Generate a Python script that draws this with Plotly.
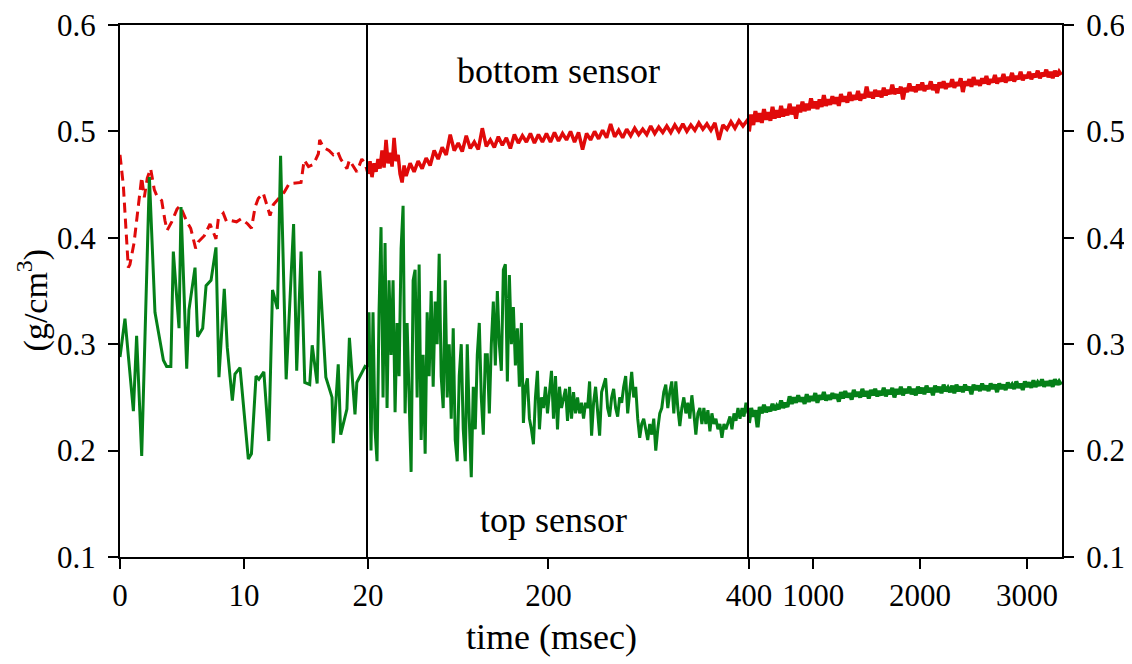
import plotly.graph_objects as go

# ---------------- data ----------------
# segment 1 (0-20 msec)
top1_t = [0, 0.4, 1.08, 1.34, 1.75, 2.37, 2.82, 3.5, 3.76, 4.1, 4.3, 4.76, 4.92, 5.38, 5.56, 6.05, 6.26, 6.67,
          6.94, 7.34, 7.74, 7.98, 8.41, 8.65, 9.06, 9.27, 9.68, 10.35, 10.6, 10.97, 11.2, 11.6, 12.0, 12.3, 12.7,
          12.95, 13.4, 14.0, 14.25, 14.6, 14.9, 15.3, 15.5, 15.9, 16.1, 16.6, 17.1, 17.2, 17.6, 17.8, 18.3, 18.5,
          18.95, 19.1, 19.76, 20]
top1_v = [0.288, 0.324, 0.237, 0.308, 0.195, 0.457, 0.330, 0.285, 0.279, 0.279, 0.387, 0.315, 0.429, 0.277, 0.332,
          0.372, 0.307, 0.315, 0.355, 0.360, 0.391, 0.269, 0.352, 0.297, 0.247, 0.272, 0.278, 0.192, 0.197, 0.270,
          0.267, 0.274, 0.209, 0.351, 0.333, 0.477, 0.267, 0.413, 0.275, 0.387, 0.264, 0.262, 0.299, 0.263, 0.369,
          0.269, 0.250, 0.207, 0.281, 0.215, 0.239, 0.306, 0.234, 0.264, 0.279, 0.277]
bot1_t = [0, 0.27, 0.67, 0.8, 1.13, 1.48, 1.75, 1.96, 2.2, 2.47, 2.77, 2.95, 3.36, 3.63, 3.8, 4.17, 4.6, 4.84, 5.4,
          5.7, 6.1, 6.3, 6.8, 7.26, 7.74, 7.93, 8.33, 8.6, 9.0, 9.4, 9.8, 10.3, 10.6, 10.9, 11.15, 11.55, 12.1, 12.36,
          12.6, 13.25, 13.65, 14.6, 14.85, 15.2, 15.6, 16.0, 16.1, 16.4, 16.85, 17.2, 17.55, 17.8, 18.3, 18.5, 19.1,
          19.5, 19.76, 20]
bot1_v = [0.478, 0.449, 0.372, 0.375, 0.395, 0.428, 0.457, 0.438, 0.456, 0.465, 0.445, 0.440, 0.435, 0.416, 0.407,
          0.415, 0.427, 0.430, 0.415, 0.409, 0.390, 0.396, 0.402, 0.413, 0.399, 0.418, 0.423, 0.415, 0.416, 0.415,
          0.418, 0.413, 0.409, 0.429, 0.437, 0.442, 0.421, 0.431, 0.434, 0.443, 0.451, 0.452, 0.473, 0.467, 0.469,
          0.479, 0.492, 0.485, 0.482, 0.478, 0.481, 0.474, 0.465, 0.473, 0.462, 0.474, 0.470, 0.460]

# segment 2 (20-400 msec)
top2_t = [20, 21, 23, 25, 27, 29, 31, 33, 35, 37, 39, 41, 43, 45, 47, 49, 51, 53, 55, 57, 59, 61, 63, 65, 67, 69,
          71, 73, 75, 77, 79, 81, 83, 85, 87, 89, 91, 93, 95, 97, 99, 101, 103, 105, 107, 109, 111, 113, 115, 117,
          119, 121, 123, 125, 127, 129, 131, 133, 135, 137, 139, 141, 143, 145, 147, 149, 151, 153, 155, 157, 159,
          161, 163, 165, 167, 169, 171, 173, 175, 177, 179, 181, 183, 185, 187, 189, 191, 193, 195, 197, 199, 201,
          203, 205, 207, 209, 211, 213, 215, 217, 219, 221, 223, 225, 227, 229, 231, 233, 235, 237, 239, 241, 243,
          245, 247, 249, 251, 253, 255, 257, 259, 261, 263, 265, 267, 269, 271, 273, 275, 277, 279, 281, 283, 285,
          287, 289, 291, 293, 295, 297, 299, 301, 303, 305, 307, 309, 311, 313, 315, 317, 319, 321, 323, 325, 327,
          329, 331, 333, 335, 337, 339, 341, 343, 345, 347, 349, 351, 353, 355, 357, 359, 361, 363, 365, 367, 369,
          371, 373, 375, 377, 379, 381, 383, 385, 387, 389, 391, 393, 395, 397, 399, 400]
top2_v = [0.278, 0.33, 0.20, 0.33, 0.22, 0.19, 0.33, 0.41, 0.25, 0.395, 0.24, 0.36, 0.29, 0.36, 0.236, 0.32, 0.27,
          0.39, 0.43, 0.235, 0.32, 0.24, 0.18, 0.36, 0.37, 0.25, 0.375, 0.21, 0.29, 0.197, 0.33, 0.27, 0.35, 0.26,
          0.34, 0.30, 0.385, 0.27, 0.24, 0.36, 0.25, 0.30, 0.23, 0.315, 0.21, 0.19, 0.27, 0.30, 0.22, 0.19, 0.30,
          0.23, 0.175, 0.26, 0.22, 0.29, 0.32, 0.25, 0.215, 0.29, 0.29, 0.235, 0.30, 0.34, 0.28, 0.35, 0.30, 0.275,
          0.37, 0.375, 0.265, 0.365, 0.30, 0.335, 0.28, 0.315, 0.26, 0.32, 0.226, 0.26, 0.268, 0.23, 0.22, 0.206,
          0.25, 0.275, 0.22, 0.25, 0.24, 0.26, 0.235, 0.255, 0.275, 0.23, 0.27, 0.22, 0.26, 0.24, 0.25, 0.258,
          0.228, 0.26, 0.23, 0.255, 0.235, 0.25, 0.235, 0.245, 0.23, 0.245, 0.24, 0.265, 0.214, 0.245, 0.26, 0.235,
          0.214, 0.255, 0.262, 0.268, 0.24, 0.232, 0.25, 0.258, 0.24, 0.232, 0.25, 0.245, 0.26, 0.27, 0.235, 0.255,
          0.274, 0.25, 0.26, 0.23, 0.212, 0.225, 0.23, 0.22, 0.21, 0.225, 0.215, 0.23, 0.20, 0.22, 0.235, 0.24,
          0.255, 0.262, 0.24, 0.255, 0.265, 0.235, 0.265, 0.24, 0.223, 0.24, 0.25, 0.235, 0.245, 0.23, 0.252, 0.235,
          0.215, 0.235, 0.24, 0.225, 0.24, 0.225, 0.238, 0.218, 0.235, 0.225, 0.23, 0.22, 0.225, 0.212, 0.225, 0.22,
          0.225, 0.232, 0.22, 0.235, 0.228, 0.24, 0.23, 0.24, 0.232, 0.245, 0.235, 0.244]
bot2_t = [20, 22, 24, 26, 28, 30, 32, 34, 36, 38, 40, 42, 44, 46, 48, 50, 52, 54, 56, 58, 62, 66, 70, 74, 78, 82,
          86, 90, 94, 98, 102, 106, 110, 114, 118, 122, 126, 130, 134, 138, 142, 146, 150, 154, 158, 162, 166, 170,
          174, 178, 182, 186, 190, 194, 198, 202, 206, 210, 214, 218, 222, 226, 230, 234, 238, 242, 246, 250, 254,
          258, 262, 266, 270, 274, 278, 282, 286, 290, 294, 298, 302, 306, 310, 314, 318, 322, 326, 330, 334, 338,
          342, 346, 350, 354, 358, 362, 366, 370, 374, 378, 382, 386, 390, 394, 398, 400]
bot2_v = [0.460, 0.472, 0.457, 0.470, 0.462, 0.474, 0.465, 0.482, 0.466, 0.492, 0.470, 0.480, 0.467, 0.494, 0.472,
          0.478, 0.460, 0.452, 0.468, 0.458, 0.470, 0.462, 0.472, 0.465, 0.475, 0.468, 0.482, 0.474, 0.485, 0.478,
          0.497, 0.482, 0.489, 0.481, 0.496, 0.484, 0.490, 0.483, 0.503, 0.486, 0.492, 0.485, 0.495, 0.487, 0.494,
          0.484, 0.497, 0.489, 0.496, 0.490, 0.498, 0.489, 0.497, 0.490, 0.498, 0.490, 0.499, 0.491, 0.498, 0.492,
          0.500, 0.490, 0.499, 0.483, 0.498, 0.492, 0.500, 0.493, 0.501, 0.494, 0.507, 0.495, 0.501, 0.494, 0.502,
          0.496, 0.503, 0.497, 0.502, 0.497, 0.505, 0.498, 0.504, 0.499, 0.505, 0.499, 0.506, 0.500, 0.507, 0.500,
          0.506, 0.501, 0.508, 0.502, 0.507, 0.501, 0.508, 0.492, 0.506, 0.502, 0.509, 0.503, 0.510, 0.505, 0.510,
          0.508]

# segment 3 (400-3320 msec)
seg3_t = [400, 420, 440, 460, 480, 500, 520, 540, 560, 580, 600, 620, 640, 660, 680, 700, 720, 740, 760, 780,
          800, 820, 840, 860, 880, 900, 920, 940, 960, 980, 1000, 1020, 1040, 1060, 1080, 1100, 1120, 1140, 1160,
          1180, 1200, 1220, 1240, 1260, 1280, 1300, 1320, 1340, 1360, 1380, 1400, 1420, 1440, 1460, 1480, 1500,
          1520, 1540, 1560, 1580, 1600, 1620, 1640, 1660, 1680, 1700, 1720, 1740, 1760, 1780, 1800, 1820, 1840,
          1860, 1880, 1900, 1920, 1940, 1960, 1980, 2000, 2020, 2040, 2060, 2080, 2100, 2120, 2140, 2160, 2180,
          2200, 2220, 2240, 2260, 2280, 2300, 2320, 2340, 2360, 2380, 2400, 2420, 2440, 2460, 2480, 2500, 2520,
          2540, 2560, 2580, 2600, 2620, 2640, 2660, 2680, 2700, 2720, 2740, 2760, 2780, 2800, 2820, 2840, 2860,
          2880, 2900, 2920, 2940, 2960, 2980, 3000, 3020, 3040, 3060, 3080, 3100, 3120, 3140, 3160, 3180, 3200,
          3220, 3240, 3260, 3280, 3300, 3320]
bot3_v = [0.500, 0.516, 0.506, 0.519, 0.509, 0.517, 0.508, 0.521, 0.511, 0.518,
          0.510, 0.523, 0.512, 0.520, 0.513, 0.524, 0.514, 0.521, 0.515, 0.526,
          0.516, 0.523, 0.512, 0.525, 0.518, 0.528, 0.519, 0.526, 0.520, 0.531,
          0.522, 0.528, 0.521, 0.530, 0.523, 0.534, 0.524, 0.530, 0.525, 0.533,
          0.526, 0.532, 0.524, 0.535, 0.528, 0.533, 0.527, 0.537, 0.529, 0.534,
          0.530, 0.538, 0.529, 0.535, 0.531, 0.542, 0.532, 0.537, 0.531, 0.539,
          0.533, 0.538, 0.532, 0.541, 0.534, 0.539, 0.535, 0.544, 0.535, 0.540,
          0.536, 0.542, 0.530, 0.541, 0.537, 0.545, 0.538, 0.542, 0.537, 0.544,
          0.539, 0.546, 0.538, 0.543, 0.540, 0.547, 0.539, 0.544, 0.536, 0.546,
          0.541, 0.547, 0.540, 0.545, 0.542, 0.549, 0.541, 0.546, 0.543, 0.550,
          0.537, 0.547, 0.543, 0.549, 0.542, 0.551, 0.544, 0.548, 0.543, 0.550,
          0.545, 0.552, 0.544, 0.549, 0.546, 0.553, 0.545, 0.550, 0.547, 0.554,
          0.546, 0.551, 0.548, 0.555, 0.547, 0.552, 0.549, 0.556, 0.548, 0.553,
          0.550, 0.556, 0.549, 0.554, 0.551, 0.557, 0.550, 0.555, 0.552, 0.558,
          0.551, 0.556, 0.550, 0.557, 0.552, 0.556, 0.553]
top3_v = [0.226, 0.240, 0.232, 0.238, 0.222, 0.241, 0.235, 0.243, 0.236, 0.241,
          0.237, 0.244, 0.238, 0.242, 0.239, 0.247, 0.240, 0.245, 0.241, 0.251,
          0.244, 0.250, 0.245, 0.252, 0.246, 0.250, 0.244, 0.253, 0.246, 0.251,
          0.247, 0.254, 0.245, 0.252, 0.248, 0.255, 0.247, 0.252, 0.248, 0.254,
          0.249, 0.253, 0.246, 0.255, 0.249, 0.256, 0.250, 0.254, 0.248, 0.257,
          0.251, 0.255, 0.250, 0.258, 0.251, 0.256, 0.249, 0.257, 0.252, 0.258,
          0.251, 0.256, 0.252, 0.259, 0.251, 0.257, 0.253, 0.259, 0.250, 0.258,
          0.253, 0.260, 0.252, 0.258, 0.254, 0.260, 0.253, 0.258, 0.252, 0.260,
          0.254, 0.259, 0.253, 0.261, 0.255, 0.259, 0.252, 0.261, 0.255, 0.260,
          0.254, 0.262, 0.256, 0.259, 0.255, 0.261, 0.254, 0.262, 0.256, 0.260,
          0.255, 0.262, 0.257, 0.260, 0.253, 0.262, 0.257, 0.261, 0.256, 0.263,
          0.257, 0.261, 0.256, 0.263, 0.258, 0.262, 0.255, 0.263, 0.258, 0.262,
          0.257, 0.264, 0.259, 0.262, 0.258, 0.265, 0.259, 0.263, 0.257, 0.265,
          0.260, 0.264, 0.259, 0.266, 0.260, 0.264, 0.261, 0.267, 0.260, 0.265,
          0.261, 0.266, 0.260, 0.267, 0.262, 0.265, 0.262]

x1_ticks = [0, 10, 20]
x2_ticks = [200, 400]
x3_ticks = [1000, 2000, 3000]
y_ticks = [0.1, 0.2, 0.3, 0.4, 0.5, 0.6]

RED = "#e00a0a"
GREEN = "#058018"
FONT = "Liberation Serif"

fig = go.Figure()
fig.add_trace(go.Scatter(x=bot1_t, y=bot1_v, mode="lines", line=dict(color=RED, width=3, dash="10px,6px"),
                         xaxis="x", yaxis="y"))
fig.add_trace(go.Scatter(x=top1_t, y=top1_v, mode="lines", line=dict(color=GREEN, width=3),
                         xaxis="x", yaxis="y"))
fig.add_trace(go.Scatter(x=bot2_t, y=bot2_v, mode="lines", line=dict(color=RED, width=3.5),
                         xaxis="x2", yaxis="y2"))
fig.add_trace(go.Scatter(x=top2_t, y=top2_v, mode="lines", line=dict(color=GREEN, width=3),
                         xaxis="x2", yaxis="y2"))
fig.add_trace(go.Scatter(x=seg3_t, y=bot3_v, mode="lines", line=dict(color=RED, width=4),
                         xaxis="x3", yaxis="y3"))
fig.add_trace(go.Scatter(x=seg3_t, y=top3_v, mode="lines", line=dict(color=GREEN, width=4),
                         xaxis="x3", yaxis="y3"))

W = 942.0
d1 = 248 / W
d2 = 629 / W
tickfont = dict(family=FONT, size=31, color="black")
xcommon = dict(showline=True, linecolor="black", linewidth=2, mirror=True, ticks="outside", ticklen=10,
               tickwidth=2, tickcolor="black", showgrid=False, zeroline=False, tickfont=tickfont,
               ticklabeloverflow="allow", automargin=False)
ycommon = dict(range=[0.1, 0.6], showline=True, linecolor="black", linewidth=2, showgrid=False,
               zeroline=False, tickvals=y_ticks, tickfont=tickfont, tickcolor="black", tickwidth=2, ticklen=10,
               ticklabeloverflow="allow", ticklabelstandoff=6, automargin=False)

# the page body adds an 8px margin, so the figure is 8px smaller and shifted
fig.update_layout(
    width=1124, height=656,
    margin=dict(l=112, r=70, t=17, b=107, autoexpand=False),
    paper_bgcolor="white", plot_bgcolor="white",
    showlegend=False,
    font=dict(family=FONT, color="black"),
    xaxis=dict(domain=[0, d1], range=[0, 20], tickvals=x1_ticks, anchor="y", **xcommon),
    xaxis2=dict(domain=[d1, d2], range=[20, 400], tickvals=x2_ticks, anchor="y2", **xcommon),
    xaxis3=dict(domain=[d2, 1], range=[400, 3327], tickvals=x3_ticks, anchor="y3", **xcommon),
    yaxis=dict(anchor="x", side="left", ticks="outside", **ycommon),
    yaxis2=dict(anchor="x2", side="left", ticks="", showticklabels=False, **ycommon),
    yaxis3=dict(anchor="x3", side="right", ticks="outside", mirror=True, **ycommon),
    annotations=[
        dict(text="bottom sensor", x=0.466, y=0.913, xref="paper", yref="paper", showarrow=False,
             xanchor="center", yanchor="middle", font=dict(family=FONT, size=36, color="black")),
        dict(text="top sensor", x=0.460, y=0.070, xref="paper", yref="paper", showarrow=False,
             xanchor="center", yanchor="middle", font=dict(family=FONT, size=36, color="black")),
        dict(text="time (msec)", x=0.458, y=-0.150, xref="paper", yref="paper", showarrow=False,
             xanchor="center", yanchor="middle", font=dict(family=FONT, size=36, color="black")),
        dict(text="(g/cm<sup>3</sup>)", x=-0.093, y=0.483, xref="paper", yref="paper", showarrow=False,
             xanchor="center", yanchor="middle", textangle=-90,
             font=dict(family=FONT, size=34, color="black")),
    ],
)

fig.write_html("out.html")
